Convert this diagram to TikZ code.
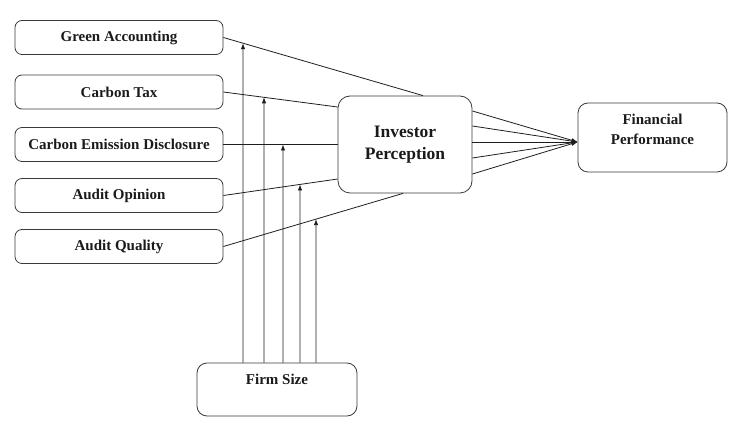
\documentclass[tikz,border=0pt]{standalone}
\usepackage{fontspec}
\setmainfont{Liberation Serif}
\usetikzlibrary{arrows.meta,intersections}

\begin{document}
\begin{tikzpicture}[x=1pt, y=-1pt,
    varbox/.style={draw=borderColour, line width=0.8pt, rounded corners=7pt,
        minimum width=208pt, minimum height=34pt, inner sep=0pt,
        text=textColour, font=\fontsize{15}{17}\selectfont\bfseries},
    link/.style={draw=lineColour, line width=0.8pt},
    arrowlink/.style={link, -{Latex[length=6pt,width=4.5pt]}}]
    \definecolor{borderColour}{HTML}{3A3A3A}
    \definecolor{lineColour}{HTML}{1E1E1E}
    \definecolor{textColour}{HTML}{1A1A1A}

    \useasboundingbox (0,0) rectangle (732,430);

    % Independent variables
    \node[varbox] (ga)  at (119,37.5)  {Green Accounting};
    \node[varbox] (ct)  at (119,92)    {Carbon Tax};
    \node[varbox] (ced) at (119,144.5) {Carbon Emission Disclosure};
    \node[varbox] (ao)  at (119,195.5) {Audit Opinion};
    \node[varbox] (aq)  at (119,246.5) {Audit Quality};

    % Mediator
    \node[varbox, minimum width=134pt, minimum height=97pt, rounded corners=12pt,
        align=center, font=\fontsize{17.5}{22}\selectfont\bfseries]
        (ip) at (405,144.5) {Investor\\Perception};

    % Dependent variable
    \node[varbox, minimum width=149pt, minimum height=69pt, rounded corners=10pt]
        (fp) at (652.5,137.5) {};
    \node[align=center, text=textColour, font=\fontsize{15}{20}\selectfont\bfseries]
        (fptext) at (652.5,129) {Financial\\Performance};

    % Moderator
    \node[varbox, minimum width=160pt, minimum height=53pt, rounded corners=10pt]
        (fs) at (277,389.5) {};
    \node[text=textColour, font=\fontsize{15}{17}\selectfont\bfseries]
        (fstext) at (277,379) {Firm Size};

    % Paths into investor perception
    \coordinate (in-ga)  at ([xshift=18pt]ip.north);
    \coordinate (in-ct)  at ([yshift=37.5pt]ip.west);
    \coordinate (in-ced) at (ip.west);
    \coordinate (in-ao)  at ([yshift=-34.5pt]ip.west);
    \coordinate (in-aq)  at ([xshift=-2pt]ip.south);
    \foreach \v in {ga,ct,ced,ao,aq}
        \draw[link, name path=p-\v] (\v.east) -- (in-\v);

    % Moderating arrows from firm size
    \foreach \dx/\v in {-34/ga,-13/ct,6/ced,23/ao,39/aq} {
        \coordinate (fs-\v) at ([xshift=\dx pt]fs.north);
        \path[name path=m-\v] (fs-\v) -- ([yshift=400pt]fs-\v);
        \path[name intersections={of={p-\v} and {m-\v}, by={hit-\v}}];
        \draw[arrowlink] (fs-\v) -- (hit-\v);
    }

    % Paths into financial performance
    \coordinate (fp-in) at ([yshift=-4.5pt]fp.west);
    \foreach \dy in {33.5,18.5,2.5,-13.5,-29.5}
        \draw[arrowlink] ([yshift=\dy pt]ip.east) -- (fp-in);

\end{tikzpicture}
\end{document}
